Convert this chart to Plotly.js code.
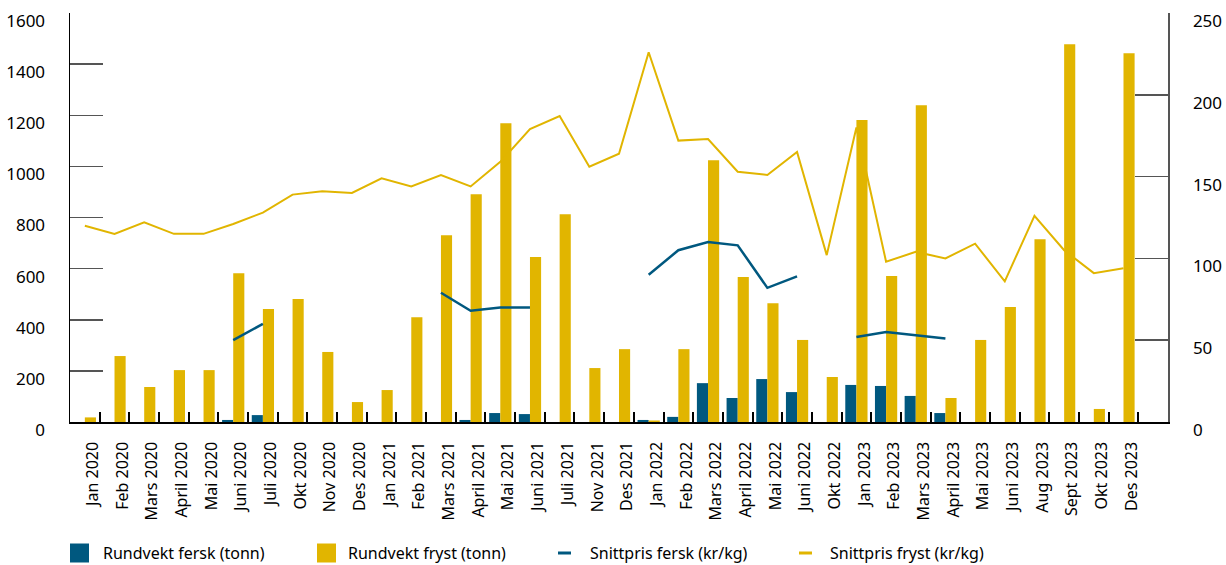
<!DOCTYPE html>
<html>
<head>
<meta charset="utf-8">
<script src="https://cdn.plot.ly/plotly-3.0.1.min.js"></script>
<style>html,body{margin:0;padding:0;background:#fff;}#chart{width:1226px;height:565px;}</style>
</head>
<body>
<div id="chart"></div>
<script>
const categories = ["Jan 2020","Feb 2020","Mars 2020","April 2020","Mai 2020","Juni 2020","Juli 2020","Okt 2020","Nov 2020","Des 2020",
  "Jan 2021","Feb 2021","Mars 2021","April 2021","Mai 2021","Juni 2021","Juli 2021","Nov 2021","Des 2021",
  "Jan 2022","Feb 2022","Mars 2022","April 2022","Mai 2022","Juni 2022","Okt 2022",
  "Jan 2023","Feb 2023","Mars 2023","April 2023","Mai 2023","Juni 2023","Aug 2023","Sept 2023","Okt 2023","Des 2023"];

const rundvektFersk = [null,null,null,null,null,8,27,null,null,null,
  null,null,null,8,35,31,null,null,null,
  8,20,152,94,168,117,null,
  145,141,102,35,null,null,null,null,null,null];

const rundvektFryst = [18,258,137,203,203,582,442,481,274,78,
  125,410,731,891,1169,645,813,211,285,
  6,285,1024,567,465,321,176,
  1181,571,1239,94,321,450,715,1478,51,1443];

const snittprisFersk = [null,null,null,null,null,50,60,null,null,null,
  null,null,79,68,70,70,null,null,null,
  90,105,110,108,82,89,null,
  52,55,53,51,null,null,null,null,null,null];

const snittprisFryst = [120,115,122,115,115,121,128,139,141,140,
  149,144,151,144,159,179,187,156,164,
  226,172,173,153,151,165,102,
  180,98,104,100,109,86,126,105,91,94];

const seriesNames = ["Rundvekt fersk (tonn)","Rundvekt fryst (tonn)","Snittpris fersk (kr/kg)","Snittpris fryst (kr/kg)"];

const BLUE = "#00587F";
const YELLOW = "#E1B500";
const FONT = "Noto Sans, Open Sans, sans-serif";

const traces = [
  {type:"bar", name:seriesNames[0], x:categories, y:rundvektFersk, marker:{color:BLUE}, hoverinfo:"skip"},
  {type:"bar", name:seriesNames[1], x:categories, y:rundvektFryst, marker:{color:YELLOW}, hoverinfo:"skip"},
  {type:"scatter", mode:"lines", name:seriesNames[2], x:categories, y:snittprisFersk, yaxis:"y2", connectgaps:false, line:{color:BLUE, width:2.5}},
  {type:"scatter", mode:"lines", name:seriesNames[3], x:categories, y:snittprisFryst, yaxis:"y2", connectgaps:false, line:{color:YELLOW, width:2}}
];

// plot area pixel geometry
const L = 70, R = 1168, T = 13, B = 422;
const px = v => (v - L) / (R - L);
const py = v => (B - v) / (B - T);

const legendItems = [
  {kind:"rect", color:BLUE, x:70, tx:101},
  {kind:"rect", color:YELLOW, x:317, tx:346},
  {kind:"line", color:BLUE, x:558, tx:588},
  {kind:"line", color:YELLOW, x:799, tx:828}
];
const legY = 553;
const shapes = [];
const annotations = [];
legendItems.forEach((it, i) => {
  if (it.kind === "rect") {
    shapes.push({type:"rect", xref:"paper", yref:"paper", x0:px(it.x), x1:px(it.x+19), y0:py(legY+9.5), y1:py(legY-9.5), fillcolor:it.color, line:{width:0}});
  } else {
    shapes.push({type:"line", xref:"paper", yref:"paper", x0:px(it.x), x1:px(it.x+13), y0:py(legY), y1:py(legY), line:{color:it.color, width:3}});
  }
  annotations.push({xref:"paper", yref:"paper", x:px(it.tx), y:py(legY), xanchor:"left", yanchor:"middle", showarrow:false, text:seriesNames[i], font:{family:FONT, size:16, color:"#000"}});
});

const layout = {
  width:1226, height:565,
  margin:{l:L, r:1226-R, t:T, b:565-B, pad:0},
  paper_bgcolor:"#fff", plot_bgcolor:"#fff",
  showlegend:false,
  barmode:"group", bargap:0.25, bargroupgap:0,
  font:{family:FONT, size:16, color:"#000"},
  xaxis:{type:"category", range:[-0.5, 36.5], tickangle:-90, ticks:"inside", tickson:"boundaries",
    ticklen:10, tickwidth:2, tickcolor:"#000", showline:true, linecolor:"#000", linewidth:1.5,
    showgrid:false, zeroline:false, tickfont:{family:FONT, size:16, color:"#000"}, ticklabelstandoff:12, ticklabelshift:8, fixedrange:true},
  yaxis:{range:[0,1600], dtick:200, ticks:"inside", ticklen:33, tickwidth:1.5, tickcolor:"#555",
    showline:true, linecolor:"#000", linewidth:1.5, showgrid:false, zeroline:false,
    tickfont:{family:FONT, size:17, color:"#000"}, ticklabelstandoff:20, ticklabelshift:8},
  yaxis2:{range:[0,250], dtick:50, overlaying:"y", side:"right", ticks:"inside", ticklen:33, tickwidth:1.5, tickcolor:"#555",
    showline:true, linecolor:"#555", linewidth:1.5, showgrid:false, zeroline:false,
    tickfont:{family:FONT, size:17, color:"#000"}, ticklabelstandoff:20, ticklabelshift:8},
  shapes:shapes,
  annotations:annotations
};

Plotly.newPlot("chart", traces, layout, {displayModeBar:false, staticPlot:true});
</script>
</body>
</html>
